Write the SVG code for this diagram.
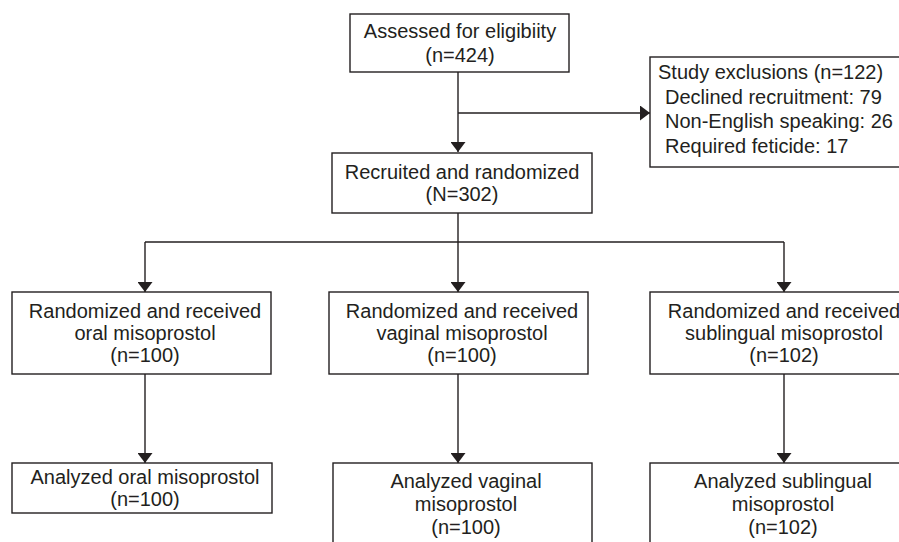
<svg xmlns="http://www.w3.org/2000/svg" width="899" height="542" viewBox="0 0 899 542">
<style>
.box{fill:#fff;stroke:#231f20;stroke-width:1.4}
.t{font-family:"Liberation Sans",Arial,sans-serif;font-size:20px;fill:#231f20}
.c{text-anchor:middle}
.ln{fill:none;stroke:#231f20;stroke-width:1.4}
</style>
<defs>
<marker id="ah" markerUnits="userSpaceOnUse" markerWidth="10" markerHeight="15" viewBox="0 0 10 15" refX="10" refY="7.5" orient="auto">
<path d="M0,0 L10,7.5 L0,15 z" fill="#231f20"/>
</marker>
</defs>
<rect width="899" height="542" fill="#fff"/>
<g id="connectors">
<path class="ln" d="M458,72 V152" marker-end="url(#ah)"/>
<path class="ln" d="M458,113 H650" marker-end="url(#ah)"/>
<path class="ln" d="M458,213 V242"/>
<path class="ln" d="M145,242 H784"/>
<path class="ln" d="M145,242 V292" marker-end="url(#ah)"/>
<path class="ln" d="M458,242 V292" marker-end="url(#ah)"/>
<path class="ln" d="M784,242 V292" marker-end="url(#ah)"/>
<path class="ln" d="M145,374 V463" marker-end="url(#ah)"/>
<path class="ln" d="M458,374 V463" marker-end="url(#ah)"/>
<path class="ln" d="M784,374 V463" marker-end="url(#ah)"/>
</g>
<g id="assessed">
<rect class="box" x="350" y="14" width="219" height="58"/>
<text class="t c" x="460" y="38">Assessed for eligibiity</text>
<text class="t c" x="460" y="62">(n=424)</text>
</g>
<g id="exclusions">
<rect class="box" x="650" y="57" width="270" height="110"/>
<text class="t" x="658" y="79">Study exclusions (n=122)</text>
<text class="t" x="665" y="104">Declined recruitment: 79</text>
<text class="t" x="665" y="128">Non-English speaking: 26</text>
<text class="t" x="665" y="153">Required feticide: 17</text>
</g>
<g id="recruited">
<rect class="box" x="332" y="153" width="260" height="60"/>
<text class="t c" x="462" y="179">Recruited and randomized</text>
<text class="t c" x="462" y="201">(N=302)</text>
</g>
<g id="oral">
<rect class="box" x="12" y="292" width="259" height="82"/>
<text class="t c" x="145" y="318">Randomized and received</text>
<text class="t c" x="145" y="340">oral misoprostol</text>
<text class="t c" x="145" y="362">(n=100)</text>
</g>
<g id="vaginal">
<rect class="box" x="329" y="292" width="259" height="82"/>
<text class="t c" x="462" y="318">Randomized and received</text>
<text class="t c" x="462" y="340">vaginal misoprostol</text>
<text class="t c" x="462" y="362">(n=100)</text>
</g>
<g id="sublingual">
<rect class="box" x="650" y="292" width="268" height="82"/>
<text class="t c" x="784" y="318">Randomized and received</text>
<text class="t c" x="784" y="340">sublingual misoprostol</text>
<text class="t c" x="784" y="362">(n=102)</text>
</g>
<g id="analyzed-oral">
<rect class="box" x="12" y="463" width="260" height="50"/>
<text class="t c" x="145" y="484">Analyzed oral misoprostol</text>
<text class="t c" x="145" y="506">(n=100)</text>
</g>
<g id="analyzed-vaginal">
<rect class="box" x="333" y="463" width="259" height="100"/>
<text class="t c" x="466" y="488">Analyzed vaginal</text>
<text class="t c" x="466" y="511">misoprostol</text>
<text class="t c" x="466" y="534">(n=100)</text>
</g>
<g id="analyzed-sublingual">
<rect class="box" x="650" y="463" width="268" height="100"/>
<text class="t c" x="783" y="488">Analyzed sublingual</text>
<text class="t c" x="783" y="511">misoprostol</text>
<text class="t c" x="783" y="534">(n=102)</text>
</g>
</svg>
